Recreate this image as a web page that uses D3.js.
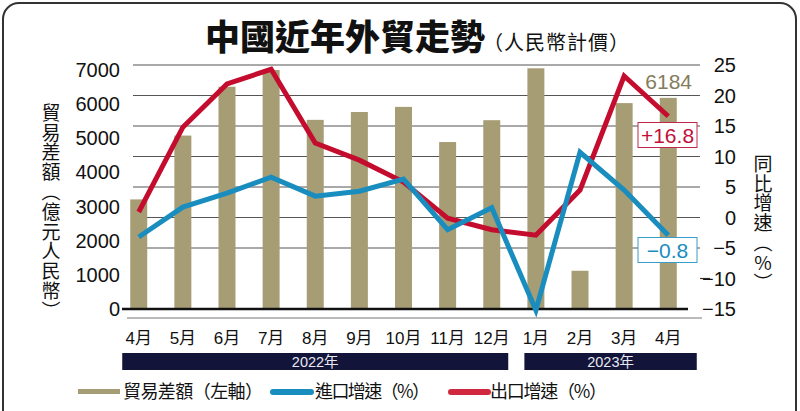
<!DOCTYPE html>
<html><head><meta charset="utf-8">
<script src="https://cdn.jsdelivr.net/npm/d3@7"></script>
<style>
html,body{margin:0;padding:0;background:#fff;}
svg{display:block;}
</style></head>
<body>
<svg id="c" width="800" height="411"></svg>
<script>
const months = ["4月","5月","6月","7月","8月","9月","10月","11月","12月","1月","2月","3月","4月"];
const surplus = [3210, 5080, 6510, 7000, 5540, 5770, 5920, 4890, 5530, 7050, 1120, 6030, 6184];
const importGrowth = [-3.2, 1.7, 4.0, 6.6, 3.5, 4.3, 6.3, -2.0, 1.6, -15.2, 10.7, 4.5, -2.9];
const exportGrowth = [0.9, 14.8, 21.9, 24.3, 12.2, 9.4, 5.8, -0.1, -2.0, -2.9, 4.5, 23.2, 16.6];
const leftTicks = [0, 1000, 2000, 3000, 4000, 5000, 6000, 7000];
const rightTicks = [25, 20, 15, 10, 5, 0, -5, -10, -15];
const gridTicks = [25, 20, 15, 10, 5, 0, -5];
const years = [{label:"2022年", from:0, to:8}, {label:"2023年", from:9, to:12}];
const leftTitle = "貿易差額︵億元人民幣︶";
const rightTitle = "同比增速︵%︶";

const svg = d3.select("#c");
const FONT = "'Liberation Sans', Arial, 'Noto Sans CJK TC', sans-serif";
const CJK = "'Noto Sans CJK TC', 'Noto Sans CJK SC', sans-serif";

// frame
svg.append("rect").attr("x",3).attr("y",3).attr("width",793).attr("height",430)
  .attr("rx",16).attr("fill","none").attr("stroke","#333").attr("stroke-width",2);

// title
const t = svg.append("text").attr("x",205).attr("y",50).attr("font-family",CJK);
t.append("tspan").text("中國近年外貿走勢").attr("font-size",35).attr("font-weight",900).attr("fill","#111");
t.append("tspan").text("（人民幣計價）").attr("font-size",20).attr("fill","#111").attr("dx",-2).style("letter-spacing","1px");

const x = d3.scaleBand().domain(d3.range(months.length)).range([117, 690]).paddingInner(0.615).paddingOuter(0.3);
const yL = d3.scaleLinear().domain([0, 7000]).range([309, 70]);
const yR = d3.scaleLinear().domain([-15, 25]).range([309, 65]);
const cx = i => x(i) + x.bandwidth()/2;

// gridlines
svg.append("g").selectAll("line").data(gridTicks).join("line")
  .attr("x1",133).attr("x2",700).attr("y1",d=>yR(d)).attr("y2",d=>yR(d))
  .attr("stroke","#555").attr("stroke-width",1.2);

// bars
svg.append("g").selectAll("rect").data(surplus).join("rect")
  .attr("x",(d,i)=>x(i)).attr("width",x.bandwidth())
  .attr("y",d=>yL(d)).attr("height",d=>yL(0)-yL(d))
  .attr("fill","#a69d74");

// baseline
svg.append("line").attr("x1",122).attr("x2",688).attr("y1",309).attr("y2",309)
  .attr("stroke","#111").attr("stroke-width",2.5);
svg.append("line").attr("x1",127).attr("x2",702).attr("y1",318).attr("y2",318)
  .attr("stroke","#777").attr("stroke-width",1);
svg.append("line").attr("x1",700).attr("x2",710).attr("y1",yR(-10)).attr("y2",yR(-10))
  .attr("stroke","#333").attr("stroke-width",1.2);

// lines
const line = d3.line().x((d,i)=>cx(i)).y(d=>yR(d));
svg.append("path").datum(exportGrowth).attr("d",line).attr("fill","none")
  .attr("stroke","#c40d2e").attr("stroke-width",5).attr("stroke-linejoin","miter");
svg.append("path").datum(importGrowth).attr("d",line).attr("fill","none")
  .attr("stroke","#1a8dbf").attr("stroke-width",5).attr("stroke-linejoin","miter");

// left axis labels
svg.append("g").selectAll("text").data(leftTicks).join("text")
  .attr("x",120).attr("y",d=>yL(d)).attr("dy","0.35em").attr("text-anchor","end")
  .attr("font-family",FONT).attr("font-size",20).attr("fill","#111").text(d=>d);
// right axis labels
svg.append("g").selectAll("text").data(rightTicks).join("text")
  .attr("x",736).attr("y",d=>yR(d)).attr("dy","0.35em").attr("text-anchor","end")
  .attr("font-family",FONT).attr("font-size",20).attr("fill","#111")
  .text(d=> d<0 ? "−"+Math.abs(d) : d);

// axis titles (vertical)
svg.append("text").attr("x",51).attr("y",103).attr("font-family",CJK).attr("font-size",19)
  .attr("fill","#111").style("writing-mode","vertical-rl").style("text-orientation","upright")
  .style("letter-spacing","0.8px").text(leftTitle);
svg.append("text").attr("x",763).attr("y",154).attr("font-family",CJK).attr("font-size",19)
  .attr("fill","#111").style("writing-mode","vertical-rl").style("text-orientation","upright")
  .style("letter-spacing","0.8px").text(rightTitle);

// month labels
svg.append("g").selectAll("text").data(months).join("text")
  .attr("x",(d,i)=>cx(i)).attr("y",338).attr("dy","0.35em").attr("text-anchor","middle")
  .attr("font-family",FONT).attr("font-size",17).attr("fill","#111").text(d=>d);

// year bands
const bandX0 = d => d.from===0 ? x(d.from)-8 : x(d.from)-3;
const bandX1 = d => d.to===12 ? x(d.to)+x.bandwidth()+20 : x(d.to)+x.bandwidth()+8;
const yg = svg.append("g").selectAll("g").data(years).join("g");
yg.append("rect").attr("x",bandX0).attr("width",d=>bandX1(d)-bandX0(d))
  .attr("y",353).attr("height",17).attr("fill","#12143a");
yg.append("text").attr("x",d=>(bandX0(d)+bandX1(d))/2).attr("y",362)
  .attr("dy","0.35em").attr("text-anchor","middle").attr("font-family",FONT).attr("font-size",14.5)
  .attr("fill","#e8e8f0").text(d=>d.label);

// end labels
const last = months.length-1;
svg.append("text").attr("x",692).attr("y",82).attr("dy","0.35em").attr("text-anchor","end")
  .attr("font-family",FONT).attr("font-size",21).attr("fill","#857c5c").text(d3.format("d")(surplus[last]));
const lab = (txt, yc, col, bcol) => {
  const g = svg.append("g");
  g.append("rect").attr("x",638).attr("y",yc-12.5).attr("width",59).attr("height",25)
    .attr("fill","#fff").attr("stroke",bcol).attr("stroke-width",1);
  g.append("text").attr("x",667.5).attr("y",yc).attr("dy","0.36em").attr("text-anchor","middle")
    .attr("font-family",FONT).attr("font-size",21).attr("fill",col).text(txt);
};
lab("+16.8", 135, "#c0103a", "#c0284a");
lab("−0.8", 250, "#1a8dbf", "#3a9cc8");

// legend
const lg = svg.append("g").attr("font-family",CJK).attr("font-size",18).attr("fill","#111");
lg.append("rect").attr("x",78).attr("y",389).attr("width",42).attr("height",5).attr("fill","#a69d74");
lg.append("text").attr("x",123).attr("y",392).attr("dy","0.36em").attr("textLength",140).text("貿易差額（左軸）");
lg.append("line").attr("x1",273).attr("x2",311).attr("y1",392).attr("y2",392)
  .attr("stroke","#1a8dbf").attr("stroke-width",6).attr("stroke-linecap","round");
lg.append("text").attr("x",315).attr("y",392).attr("dy","0.36em").attr("textLength",115).text("進口增速（%）");
lg.append("line").attr("x1",451).attr("x2",488).attr("y1",392).attr("y2",392)
  .attr("stroke","#d0283f").attr("stroke-width",6).attr("stroke-linecap","round");
lg.append("text").attr("x",490).attr("y",392).attr("dy","0.36em").attr("textLength",117).text("出口增速（%）");
</script>
</body></html>
